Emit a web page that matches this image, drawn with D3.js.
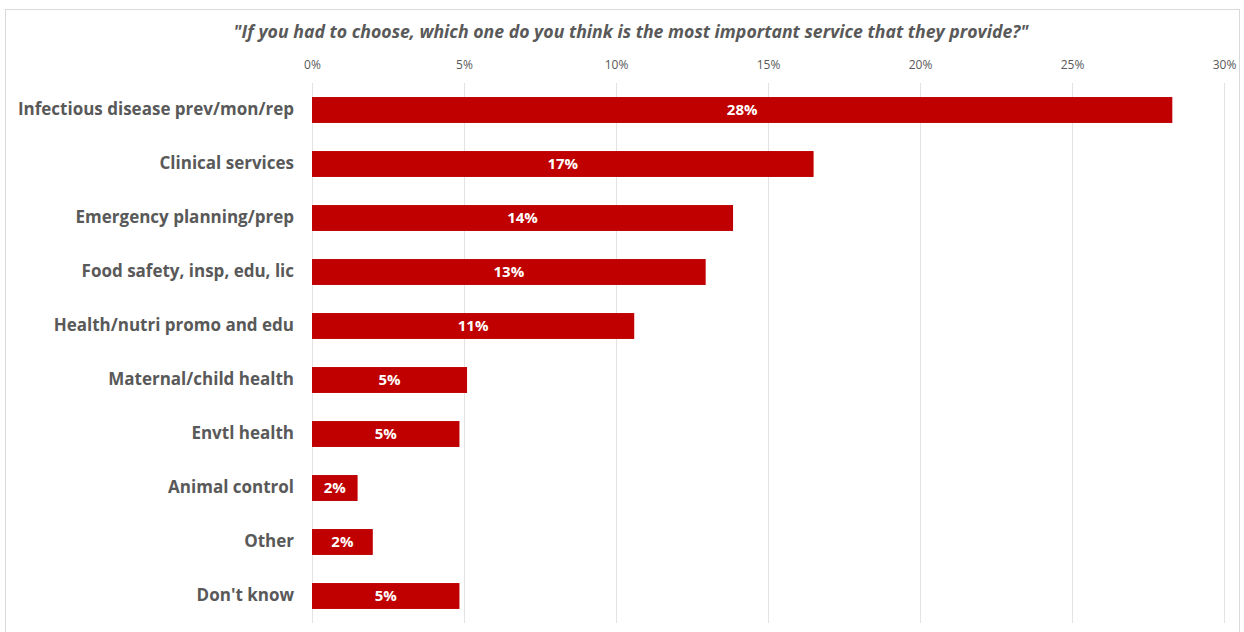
<!DOCTYPE html>
<html><head><meta charset="utf-8">
<script src="https://cdn.jsdelivr.net/npm/d3@7"></script>
<style>body{margin:0;background:#fff;} svg{display:block;}</style>
</head><body>
<script>
const categories = ["Infectious disease prev/mon/rep","Clinical services","Emergency planning/prep","Food safety, insp, edu, lic","Health/nutri promo and edu","Maternal/child health","Envtl health","Animal control","Other","Don't know"];
const values = [28.3, 16.5, 13.85, 12.95, 10.6, 5.1, 4.85, 1.5, 2.0, 4.85];
const valueLabels = ["28%","17%","14%","13%","11%","5%","5%","2%","2%","5%"];
const tickValues = [0,5,10,15,20,25,30];
const title = "\"If you had to choose, which one do you think is the most important service that they provide?\"";

const W = 1244, H = 632;
const svg = d3.select("body").append("svg").attr("width", W).attr("height", H);
svg.append("rect").attr("x",5.5).attr("y",9.5).attr("width",1234).attr("height",640).attr("fill","none").attr("stroke","#d9d9d9");

const x = d3.scaleLinear().domain([0,30]).range([312,1224]);
const y = d3.scaleBand().domain(categories).range([83,623]).paddingInner(0.52).paddingOuter(0.26);

const font = "'Open Sans', 'Liberation Sans', sans-serif";

svg.append("text").attr("x", 631).attr("y", 38).attr("text-anchor","middle")
  .attr("font-family", font).attr("font-style","italic").attr("font-weight","bold")
  .attr("font-size", 17.7).attr("fill","#595959").text(title);

// gridlines
svg.append("g").selectAll("line").data(tickValues).join("line")
  .attr("x1", d=>x(d)+0.5).attr("x2", d=>x(d)+0.5).attr("y1",83).attr("y2",623)
  .attr("stroke","#e3e3e3").attr("stroke-width",1);

// top axis
const ax = svg.append("g").attr("transform","translate(0,69)")
  .call(d3.axisTop(x).tickValues(tickValues).tickFormat(d=>d+"%").tickSize(0).tickPadding(0));
ax.select(".domain").remove();
ax.selectAll("text").attr("font-family", font).attr("font-size", 12).attr("fill","#595959");

// bars
svg.append("g").selectAll("rect").data(categories).join("rect")
  .attr("x", x(0)).attr("y", d=>y(d)).attr("height", y.bandwidth())
  .attr("width", (d,i)=>x(values[i])-x(0)).attr("fill","#c00000");

// value labels
svg.append("g").selectAll("text").data(categories).join("text")
  .attr("x", (d,i)=>(x(0)+x(values[i]))/2).attr("y", d=>y(d)+y.bandwidth()/2)
  .attr("dy","0.36em").attr("text-anchor","middle")
  .attr("font-family", font).attr("font-weight","bold").attr("font-size",15).attr("fill","#fff")
  .text((d,i)=>valueLabels[i]);

// category labels
const ay = svg.append("g").attr("transform","translate(294,0)")
  .call(d3.axisLeft(y).tickSize(0).tickPadding(0));
ay.select(".domain").remove();
ay.selectAll("text").attr("font-family", font).attr("font-weight","bold").attr("font-size",17).attr("fill","#595959");
</script>
</body></html>
